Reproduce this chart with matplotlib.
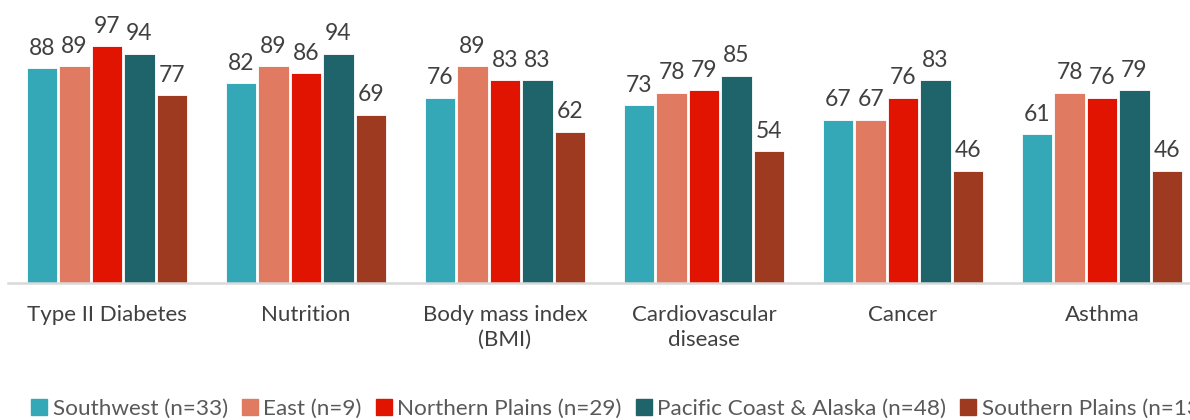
import matplotlib.pyplot as plt
from matplotlib.lines import Line2D
import numpy as np

plt.rcParams['font.family'] = ['Lato', 'DejaVu Sans']

categories = ['Type II Diabetes', 'Nutrition', 'Body mass index\n(BMI)',
              'Cardiovascular\ndisease', 'Cancer', 'Asthma']
regions = ['Southwest (n=33)', 'East (n=9)', 'Northern Plains (n=29)',
           'Pacific Coast & Alaska (n=48)', 'Southern Plains (n=13)']
southwest = [88, 82, 76, 73, 67, 61]
east = [89, 89, 89, 78, 67, 78]
northern_plains = [97, 86, 83, 79, 76, 76]
pacific_alaska = [94, 94, 83, 85, 83, 79]
southern_plains = [77, 69, 62, 54, 46, 46]
series = [southwest, east, northern_plains, pacific_alaska, southern_plains]
colors = ['#35A8B8', '#E07B62', '#E01400', '#1F636B', '#9E3A1F']

fig = plt.figure(figsize=(11.9, 4.2), dpi=100)
ax = fig.add_axes([7.5 / 1190, 137 / 420, 1194 / 1190, 244 / 420])

x = np.arange(len(categories))
step = 0.163
width = 0.152
for i, (vals, c) in enumerate(zip(series, colors)):
    pos = x + (i - 2) * step
    ax.bar(pos, vals, width, color=c, edgecolor='white', linewidth=0.6, zorder=2)
    for p, v in zip(pos, vals):
        ax.text(p, v + 3.8, str(v), ha='center', va='bottom', fontsize=16.5,
                color='#404040', clip_on=False)

ax.set_xlim(-0.5, 5.5)
ax.set_ylim(0, 100)
ax.set_yticks([])
ax.set_xticks(x)
ax.set_xticklabels(categories, fontsize=16, color='#404040', linespacing=1.3)
ax.tick_params(axis='x', length=0, pad=16)
for s in ['top', 'right', 'left']:
    ax.spines[s].set_visible(False)
ax.spines['bottom'].set_color('#D9D9D9')
ax.spines['bottom'].set_linewidth(1.8)
ax.patch.set_visible(False)

handles = [Line2D([], [], marker='s', linestyle='none', markersize=11,
                  markerfacecolor=c, markeredgecolor=c) for c in colors]
fig.legend(handles, regions, loc='lower left', bbox_to_anchor=(0.012, -0.03),
           ncol=5, frameon=False, fontsize=16.2, handletextpad=0.1,
           handlelength=1.0, columnspacing=0.48, labelcolor='#595959',
           borderaxespad=0.2)

fig.savefig('out.png', dpi=100)
